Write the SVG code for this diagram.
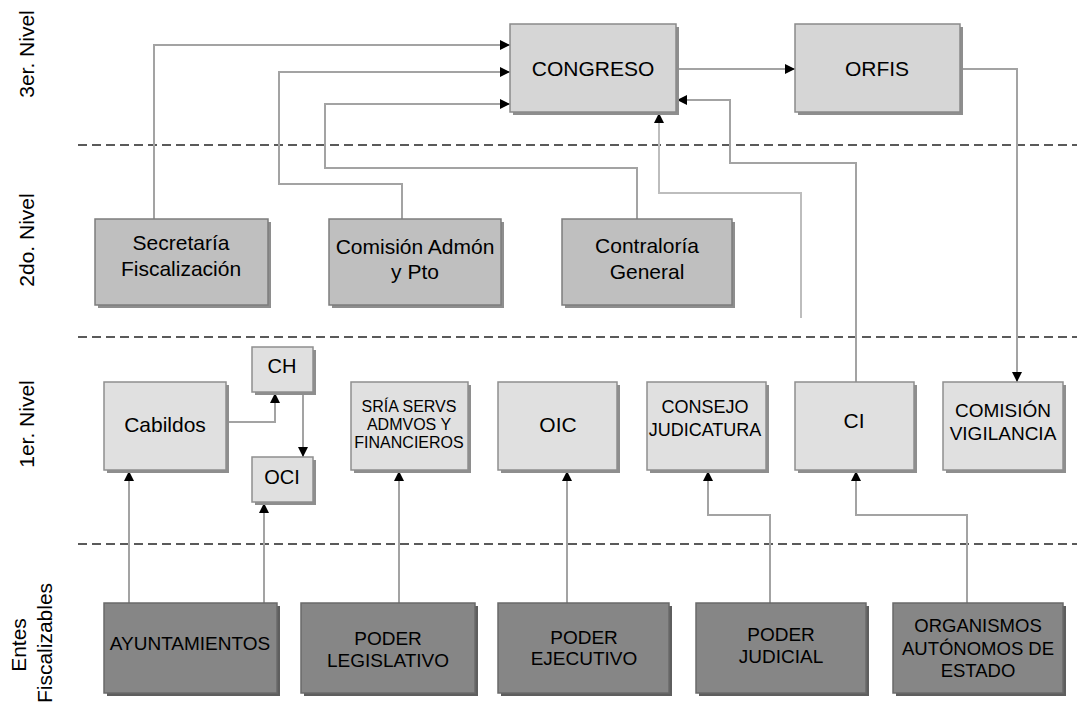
<svg xmlns="http://www.w3.org/2000/svg" width="1077" height="706" viewBox="0 0 1077 706">
<defs>
<style>
.sh{fill:#8e8e8e}
.sh0{fill:#5e5e5e}
.n3{fill:#d6d6d6;stroke:#8a8a8a;stroke-width:1.5}
.n2{fill:#bfbfbf;stroke:#7d7d7d;stroke-width:1.5}
.n1{fill:#e0e0e0;stroke:#8f8f8f;stroke-width:1.5}
.n0{fill:#868686;stroke:#6a6a6a;stroke-width:1.5}
.t{font-family:"Liberation Sans",Arial,sans-serif;fill:#000;text-anchor:middle}
.c{fill:none;stroke:#a3a3a3;stroke-width:2}
.cl{fill:none;stroke:#bdbdbd;stroke-width:2}
.d{stroke:#5a5a5a;stroke-width:2;stroke-dasharray:9 5}
</style>
<marker id="ah" markerWidth="11" markerHeight="11" refX="10" refY="5.5" orient="auto" markerUnits="userSpaceOnUse">
<path d="M0,0.5 L10,5.5 L0,10.5 z" fill="#000"/>
</marker>
</defs>
<rect width="1077" height="706" fill="#fff"/>

<g id="levels">
<line class="d" x1="78" y1="145" x2="1077" y2="145"/>
<line class="d" x1="78" y1="337" x2="1077" y2="337"/>
<line class="d" x1="78" y1="544" x2="1077" y2="544"/>
<text class="t" font-size="21" x="34" y="54" transform="rotate(-90 34 54)">3er. Nivel</text>
<text class="t" font-size="21" x="34" y="240" transform="rotate(-90 34 240)">2do. Nivel</text>
<text class="t" font-size="21" x="34" y="424" transform="rotate(-90 34 424)">1er. Nivel</text>
<text class="t" font-size="21" x="26" y="645" transform="rotate(-90 26 645)">Entes</text>
<text class="t" font-size="21" x="52" y="643" transform="rotate(-90 52 643)">Fiscalizables</text>
</g>

<g id="connectors">
<polyline class="c" points="154,219 154,45 510,45" marker-end="url(#ah)"/>
<polyline class="c" points="402,219 402,184 279,184 279,72 510,72" marker-end="url(#ah)"/>
<polyline class="c" points="637,219 637,168 325,168 325,104 510,104" marker-end="url(#ah)"/>
<polyline class="c" points="676,69 795,69" marker-end="url(#ah)"/>
<polyline class="c" points="960,69 1017,69 1017,382" marker-end="url(#ah)"/>
<polyline class="c" points="856,382 856,163 730,163 730,100 677,100" marker-end="url(#ah)"/>
<polyline class="cl" points="801,318 801,193 659,193 659,113" marker-end="url(#ah)"/>
<polyline class="c" points="226,422 275,422 275,393" marker-end="url(#ah)"/>
<polyline class="c" points="303,392 303,457" marker-end="url(#ah)"/>
<polyline class="c" points="129,603 129,471" marker-end="url(#ah)"/>
<polyline class="c" points="264,603 264,503" marker-end="url(#ah)"/>
<polyline class="c" points="399,603 399,471" marker-end="url(#ah)"/>
<polyline class="c" points="567,603 567,471" marker-end="url(#ah)"/>
<polyline class="c" points="770,603 770,515 708,515 708,471" marker-end="url(#ah)"/>
<polyline class="c" points="967,603 967,515 856,515 856,471" marker-end="url(#ah)"/>
</g>

<g id="congreso">
<rect class="sh" x="513" y="27" width="166" height="88"/>
<rect class="n3" x="510" y="24" width="166" height="88"/>
<text class="t" font-size="21" x="593" y="76">CONGRESO</text>
</g>
<g id="orfis">
<rect class="sh" x="798" y="27" width="165" height="88"/>
<rect class="n3" x="795" y="24" width="165" height="88"/>
<text class="t" font-size="21" x="877" y="76">ORFIS</text>
</g>

<g id="secretaria">
<rect class="sh" x="98" y="222" width="173" height="86"/>
<rect class="n2" x="95" y="219" width="173" height="86"/>
<text class="t" font-size="21" x="181" y="250">Secretaría</text>
<text class="t" font-size="21" x="181" y="276">Fiscalización</text>
</g>
<g id="comision-admon">
<rect class="sh" x="332" y="222" width="172" height="86"/>
<rect class="n2" x="329" y="219" width="172" height="86"/>
<text class="t" font-size="21" x="415" y="254">Comisión Admón</text>
<text class="t" font-size="21" x="415" y="279">y Pto</text>
</g>
<g id="contraloria">
<rect class="sh" x="565" y="222" width="170" height="86"/>
<rect class="n2" x="562" y="219" width="170" height="86"/>
<text class="t" font-size="21" x="647" y="253">Contraloría</text>
<text class="t" font-size="21" x="647" y="279">General</text>
</g>

<g id="cabildos">
<rect class="sh" x="107" y="385" width="122" height="88"/>
<rect class="n1" x="104" y="382" width="122" height="88"/>
<text class="t" font-size="21" x="165" y="432">Cabildos</text>
</g>
<g id="ch">
<rect class="sh" x="255" y="350" width="61" height="45"/>
<rect class="n1" x="252" y="347" width="61" height="45"/>
<text class="t" font-size="20" x="282" y="373">CH</text>
</g>
<g id="oci">
<rect class="sh" x="255" y="460" width="61" height="45"/>
<rect class="n1" x="252" y="457" width="61" height="45"/>
<text class="t" font-size="20" x="282" y="484">OCI</text>
</g>
<g id="sria">
<rect class="sh" x="354" y="385" width="117" height="88"/>
<rect class="n1" x="351" y="382" width="117" height="88"/>
<text class="t" font-size="16" x="409" y="412">SRÍA SERVS</text>
<text class="t" font-size="16" x="409" y="430">ADMVOS Y</text>
<text class="t" font-size="16" x="409" y="448">FINANCIEROS</text>
</g>
<g id="oic">
<rect class="sh" x="501" y="385" width="119" height="88"/>
<rect class="n1" x="498" y="382" width="119" height="88"/>
<text class="t" font-size="21" x="558" y="432">OIC</text>
</g>
<g id="consejo">
<rect class="sh" x="650" y="385" width="119" height="88"/>
<rect class="n1" x="647" y="382" width="119" height="88"/>
<text class="t" font-size="18" x="705" y="413">CONSEJO</text>
<text class="t" font-size="18" x="705" y="436">JUDICATURA</text>
</g>
<g id="ci">
<rect class="sh" x="798" y="385" width="119" height="88"/>
<rect class="n1" x="795" y="382" width="119" height="88"/>
<text class="t" font-size="21" x="854" y="428">CI</text>
</g>
<g id="comision-vigilancia">
<rect class="sh" x="946" y="385" width="120" height="88"/>
<rect class="n1" x="943" y="382" width="120" height="88"/>
<text class="t" font-size="19" x="1003" y="417">COMISIÓN</text>
<text class="t" font-size="19" x="1003" y="440">VIGILANCIA</text>
</g>

<g id="ayuntamientos">
<rect class="sh0" x="107" y="606" width="173" height="90"/>
<rect class="n0" x="104" y="603" width="173" height="90"/>
<text class="t" font-size="19" x="190" y="650">AYUNTAMIENTOS</text>
</g>
<g id="poder-legislativo">
<rect class="sh0" x="304" y="606" width="174" height="90"/>
<rect class="n0" x="301" y="603" width="174" height="90"/>
<text class="t" font-size="19" x="388" y="645">PODER</text>
<text class="t" font-size="19" x="388" y="667">LEGISLATIVO</text>
</g>
<g id="poder-ejecutivo">
<rect class="sh0" x="501" y="606" width="171" height="90"/>
<rect class="n0" x="498" y="603" width="171" height="90"/>
<text class="t" font-size="19" x="584" y="644">PODER</text>
<text class="t" font-size="19" x="584" y="665">EJECUTIVO</text>
</g>
<g id="poder-judicial">
<rect class="sh0" x="699" y="606" width="170" height="90"/>
<rect class="n0" x="696" y="603" width="170" height="90"/>
<text class="t" font-size="19" x="781" y="641">PODER</text>
<text class="t" font-size="19" x="781" y="663">JUDICIAL</text>
</g>
<g id="organismos">
<rect class="sh0" x="896" y="606" width="170" height="90"/>
<rect class="n0" x="893" y="603" width="170" height="90"/>
<text class="t" font-size="18.5" x="978" y="632">ORGANISMOS</text>
<text class="t" font-size="18.5" x="978" y="655">AUTÓNOMOS DE</text>
<text class="t" font-size="18.5" x="978" y="677">ESTADO</text>
</g>
</svg>
